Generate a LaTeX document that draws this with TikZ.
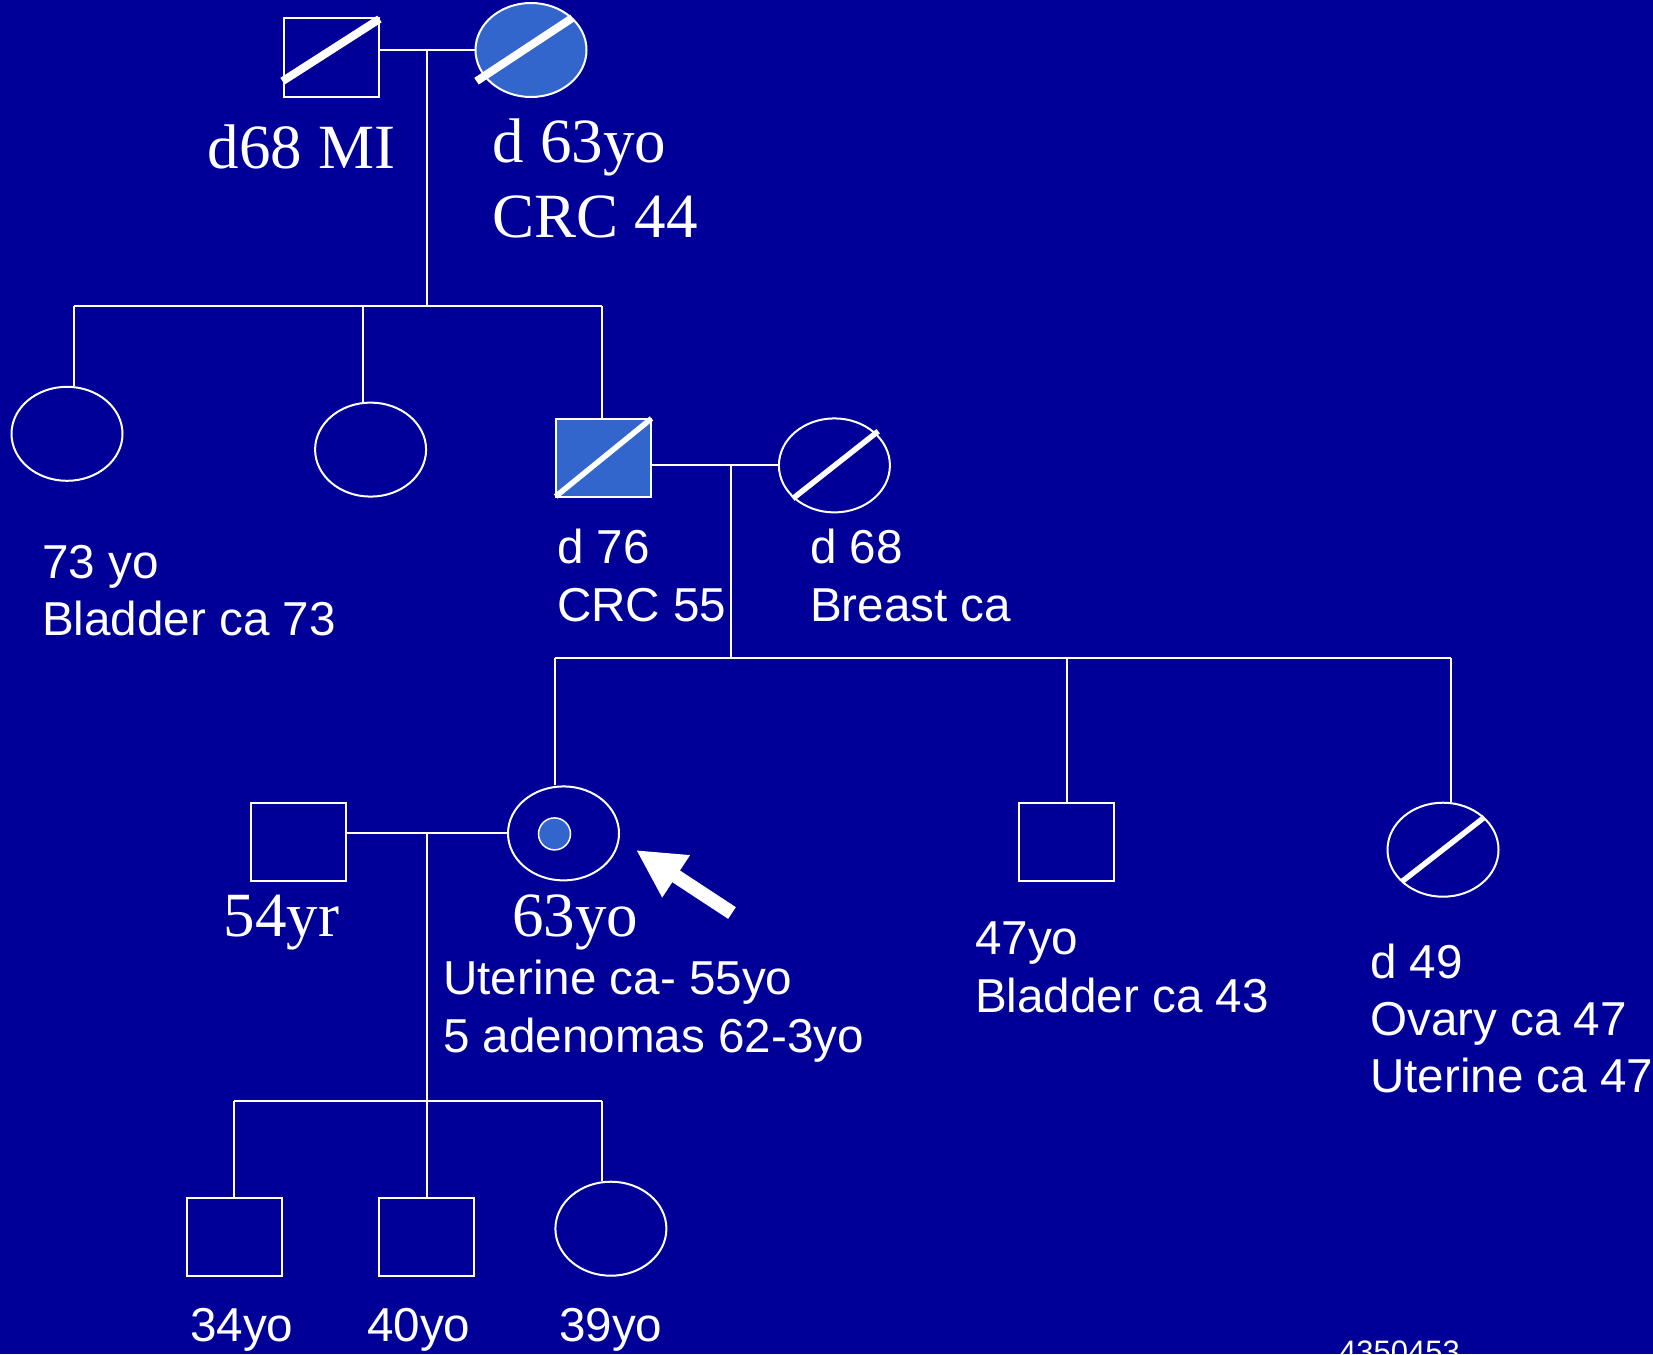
\documentclass[tikz,border=0pt]{standalone}
\usepackage{fontspec}
\setmainfont{Liberation Serif}
\newfontfamily\arialfont{Liberation Sans}
\usetikzlibrary{shapes.geometric,arrows.meta}
\definecolor{slidebg}{RGB}{0,0,153}
\definecolor{affected}{RGB}{51,102,204}
\tikzset{
  male/.style={rectangle,draw=white,line width=2pt,minimum width=95pt,minimum height=78pt,inner sep=0pt},
  female/.style={ellipse,draw=white,line width=2pt,minimum width=111pt,minimum height=94pt,inner sep=0pt},
  link/.style={draw=white,line width=2pt},
  slash/.style={draw=white,line width=8pt},
  thinslash/.style={draw=white,line width=5.5pt},
  sans/.style={text=white,inner sep=0pt,anchor=base west,align=left,font=\arialfont\fontsize{47.6}{57.2}\selectfont},
  roman/.style={text=white,inner sep=0pt,anchor=base west,align=left,font=\fontsize{63}{75}\selectfont}
}
\begin{document}
\begin{tikzpicture}[x=1pt,y=-1pt]
\fill[slidebg] (0,0) rectangle (1653,1354);
\useasboundingbox (0,0) rectangle (1653,1354);

% first generation
\node[male] (gf) at (331,57.5) {};
\node[female,fill=affected] (gm) at (531,50) {};
\draw[slash] (282.5,81.2) -- (379.5,19);
\draw[slash] (476.5,81.2) -- (572.4,17.9);
\draw[link] (gm.west) -- (gm.west -| gf.east);

% second generation
\node[female] (a1) at (67,433.8) {};
\node[female] (a2) at (370.6,449.6) {};
\node[male,fill=affected] (fa) at (603,457.5) {};
\node[female] (mo) at (834.4,465.4) {};
\draw[thinslash] (555.6,496.5) -- (651.5,418.5);
\draw[thinslash] (792.8,498.6) -- (878.2,431.2);
\draw[link] (mo.west) -- (mo.west -| fa.east);

% third generation
\node[male] (hu) at (298.8,841.8) {};
\node[female] (pr) at (563.5,833.4) {};
\fill[affected,draw=white,line width=1.5pt] (554.5,833.9) circle (16);
\node[male] (br) at (1066.9,841.8) {};
\node[female] (si) at (1443,849.7) {};
\draw[thinslash] (1401.7,881.7) -- (1484.3,817.3);
\draw[link] (pr.west) -- (pr.west -| hu.east);

% fourth generation
\node[male] (g1) at (234.5,1236.5) {};
\node[male] (g2) at (426.5,1236.5) {};
\node[female] (g3) at (610.9,1228.7) {};

% sibships
\coordinate (d1) at (427,50);
\coordinate (j1) at (427,306);
\coordinate (s11) at (73.8,306);
\coordinate (s12) at (362.6,306);
\coordinate (s13) at (602,306);
\draw[link] (d1) -- (j1);
\draw[link] (s11) -- (s13);
\foreach \s/\c in {s11/a1,s12/a2,s13/fa}
  \draw[link] (\s) -- (\s |- \c.north);

\coordinate (d2) at (730.6,465);
\coordinate (j2) at (730.6,657.8);
\coordinate (s21) at (554.5,657.8);
\coordinate (s22) at (1066.9,657.8);
\coordinate (s23) at (1450.6,657.8);
\draw[link] (d2) -- (j2);
\draw[link] (s21) -- (s23);
\foreach \s/\c in {s21/pr,s22/br,s23/si}
  \draw[link] (\s) -- (\s |- \c.north);

\coordinate (d3) at (427,834);
\coordinate (j3) at (427,1100.6);
\coordinate (s31) at (234,1100.6);
\coordinate (s32) at (427,1100.6);
\coordinate (s33) at (602,1100.6);
\draw[link] (d3) -- (j3);
\draw[link] (s31) -- (s33);
\foreach \s/\c in {s31/g1,s32/g2,s33/g3}
  \draw[link] (\s) -- (\s |- \c.north);

% proband arrow
\coordinate (arrtail) at (732,913);
\coordinate (arrtip) at (636,850);
\draw[white,line width=14pt,-{Triangle[length=48pt,width=47pt]}] (arrtail) -- (arrtip);

% texts (base = last line)
\node[roman] (tgf) at (207.7,168.5) {d68 MI};
\node[roman] (tgm) at (492.7,237.3) {d 63yo\\CRC 44};
\node[sans] (ta1) at (42,635.7) {73 yo\\Bladder ca 73};
\node[sans] (tfa) at (557,621) {d 76\\CRC 55};
\node[sans] (tmo) at (810,621) {d 68\\Breast ca};
\node[roman] (thu) at (223.5,936) {54yr};
\node[roman] (tpr) at (512,936.5) {63yo};
\node[sans] (tpr2) at (443,1052) {Uterine ca- 55yo\\5 adenomas 62-3yo};
\node[sans] (tbr) at (975,1012) {47yo\\Bladder ca 43};
\node[sans] (tsi) at (1370,1092.5) {d 49\\Ovary ca 47\\Uterine ca 47};
\node[sans] (tg1) at (190,1341) {34yo};
\node[sans] (tg2) at (367,1341) {40yo};
\node[sans] (tg3) at (559,1341) {39yo};
\node[sans,font=\arialfont\fontsize{31}{37}\selectfont] (tid) at (1339,1362) {4350453};
\end{tikzpicture}
\end{document}
